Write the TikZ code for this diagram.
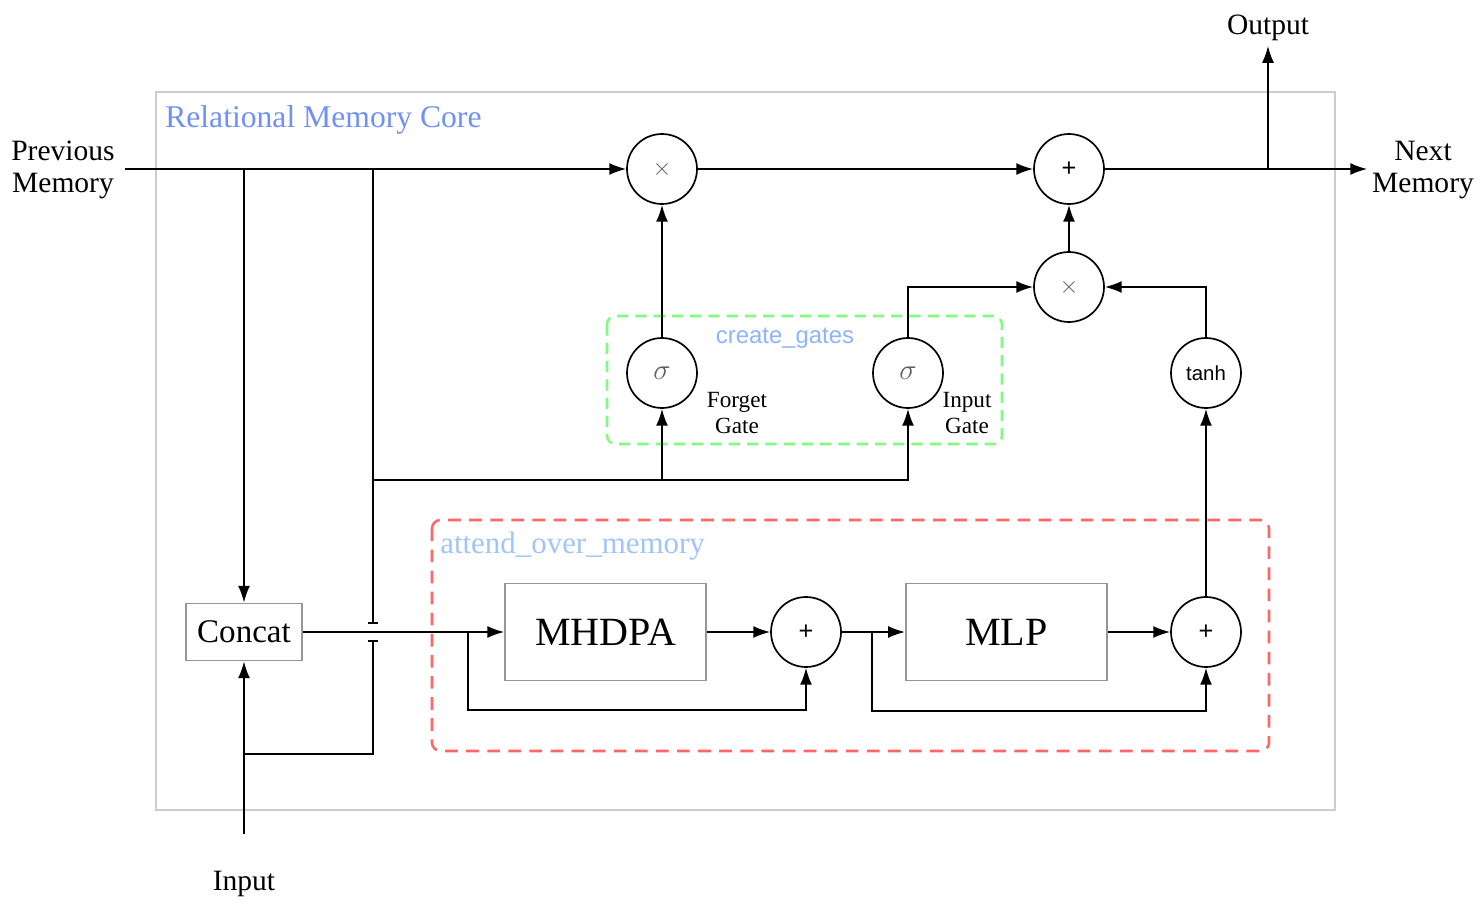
\documentclass[tikz,border=0pt]{standalone}
\usepackage{fontspec}
\setmainfont{Liberation Serif}
\newfontfamily\helv{Liberation Sans}
\usepackage{tikz}
\usetikzlibrary{positioning,arrows.meta}
\definecolor{coreblue}{RGB}{112,144,248}
\definecolor{attnblue}{RGB}{160,196,255}
\definecolor{gateblue}{RGB}{140,180,255}
\definecolor{gategreen}{RGB}{128,250,128}
\definecolor{attnred}{RGB}{255,102,102}
\definecolor{framegrey}{RGB}{204,204,204}
\definecolor{boxgrey}{RGB}{150,150,150}
\definecolor{symgrey}{RGB}{95,95,95}
\tikzset{
    opnode/.style={
        draw,
        circle,
        line width=1.2pt,
        minimum size=1.75cm,
        inner sep=0pt
    },
    blockbox/.style={
        draw=boxgrey,
        line width=1.2pt,
        align=center,
        inner sep=0pt
    },
    sidelabel/.style={
        align=center,
        font=\fontsize{21}{22.5}\selectfont
    },
    gatelabel/.style={
        align=center,
        inner sep=0pt,
        font=\fontsize{16.5}{18}\selectfont
    },
    grouptitle/.style={
        inner sep=0pt
    },
    mulsym/.style={
        text=symgrey,
        font=\fontsize{19}{19}\selectfont
    },
    sigsym/.style={
        text=symgrey,
        font=\fontsize{21}{21}\selectfont
    },
    addsym/.style={
        font=\helv\fontsize{18}{18}\selectfont
    },
    arrow/.style={->, line width=1.2pt},
    wire/.style={line width=1.2pt}
}

\begin{document}
\begin{tikzpicture}[>={Latex[length=12pt,width=8.5pt]}]

\useasboundingbox (0,0) rectangle (37.05,-22.6);

% Frames
\draw[framegrey, line width=1.2pt] (3.9,-2.3) rectangle (33.375,-20.25);
\draw[gategreen, line width=1.8pt, dash pattern=on 8pt off 5pt, rounded corners=6pt]
    (15.175,-7.9) rectangle (25.05,-11.1);
\draw[attnred, line width=1.8pt, dash pattern=on 9pt off 6pt, rounded corners=6pt]
    (10.8,-13.0) rectangle (31.725,-18.775);

\node[grouptitle, anchor=west, text=coreblue, font=\fontsize{22.5}{24}\selectfont]
    (coretitle) at (4.125,-3.0) {Relational Memory Core};
\node[grouptitle, anchor=west, text=attnblue, font=\fontsize{22}{24}\selectfont]
    (attendtitle) at (11.0,-13.65) {attend\_over\_memory};
\node[grouptitle, text=gateblue, font=\helv\fontsize{17}{18}\selectfont]
    (gatestitle) at (19.625,-8.45) {create\_gates};

% Outer labels
\node[sidelabel] (prevmem) at (1.575,-4.25) {Previous\\Memory};
\node[sidelabel] (nextmem) at (35.575,-4.25) {Next\\Memory};
\node[sidelabel] (output) at (31.7,-0.7) {Output};
\node[sidelabel] (input) at (6.1,-22.1) {Input};

% Memory path
\node[opnode] (mul1) at (16.55,-4.225) {};
\node[mulsym] at (mul1) {$\times$};
\node[opnode] (plus1) at (26.725,-4.225) {};
\node[addsym] at (plus1) {+};
\node[opnode] (mul2) at (26.725,-7.175) {};
\node[mulsym] at (mul2) {$\times$};
\node[opnode] (tanh) at (30.15,-9.325) {\helv\fontsize{14.5}{15}\selectfont tanh};

% Gates
\node[opnode] (sigf) at (16.55,-9.325) {};
\node[sigsym] at (sigf) {$\sigma$};
\node[opnode] (sigi) at (22.7,-9.325) {};
\node[sigsym] at (sigi) {$\sigma$};
\node[gatelabel] (forgetlbl) at (18.425,-10.325) {Forget\\Gate};
\node[gatelabel] (inputlbl) at (24.175,-10.325) {Input\\Gate};

% Attention block
\node[blockbox, minimum width=2.9cm, minimum height=1.425cm,
      font=\fontsize{23.5}{24}\selectfont] (concat) at (6.1,-15.8) {Concat};
\node[blockbox, minimum width=5.025cm, minimum height=2.425cm,
      font=\fontsize{28.5}{30}\selectfont] (mhdpa) at (15.14,-15.8) {MHDPA};
\node[opnode] (plus2) at (20.15,-15.8) {};
\node[addsym] at (plus2) {+};
\node[blockbox, minimum width=5.025cm, minimum height=2.425cm,
      font=\fontsize{28.5}{30}\selectfont] (mlp) at (25.16,-15.8) {MLP};
\node[opnode] (plus3) at (30.15,-15.8) {};
\node[addsym] at (plus3) {+};

% Branch points
\coordinate (br1) at (6.1,-4.225);
\coordinate (br2) at (9.325,-4.225);
\coordinate (jumptop) at (9.325,-15.6);
\coordinate (jumpbot) at (9.325,-16.0);
\coordinate (inbranch) at (6.1,-18.85);
\coordinate (bus) at (9.325,-12.0);
\coordinate (res1) at (11.7,-15.8);
\coordinate (res2) at (21.8,-15.8);
\coordinate (outsplit) at (31.7,-4.225);

% Connectors
\draw[arrow, shorten <=4pt] (prevmem.east |- br1) -- (mul1);
\draw[arrow] (mul1) -- (plus1);
\draw[arrow] (plus1) -- (nextmem.west |- plus1);
\draw[arrow] (outsplit) -- (output);
\draw[arrow] (br1) -- (concat);
\draw[wire, -{Bar[width=7pt]}] (br2) -- (jumptop);
\draw[wire, -{Bar[width=7pt]}] (inbranch) -| (jumpbot);
\draw[arrow, shorten <=0.8cm] (input) -- (concat);

\draw[arrow] (bus) -| (sigi);
\draw[arrow] (bus -| sigf) -- (sigf);
\draw[arrow] (sigf) -- (mul1);
\draw[arrow] (sigi) |- (mul2);
\draw[arrow] (tanh) |- (mul2);
\draw[arrow] (mul2) -- (plus1);

\draw[arrow] (concat) -- (mhdpa);
\draw[arrow] (mhdpa) -- (plus2);
\draw[arrow] (res1) -- ++(0,-1.95) -| (plus2);
\draw[arrow] (plus2) -- (mlp);
\draw[arrow] (res2) -- ++(0,-1.975) -| (plus3);
\draw[arrow] (mlp) -- (plus3);
\draw[arrow] (plus3) -- (tanh);

\end{tikzpicture}
\end{document}
